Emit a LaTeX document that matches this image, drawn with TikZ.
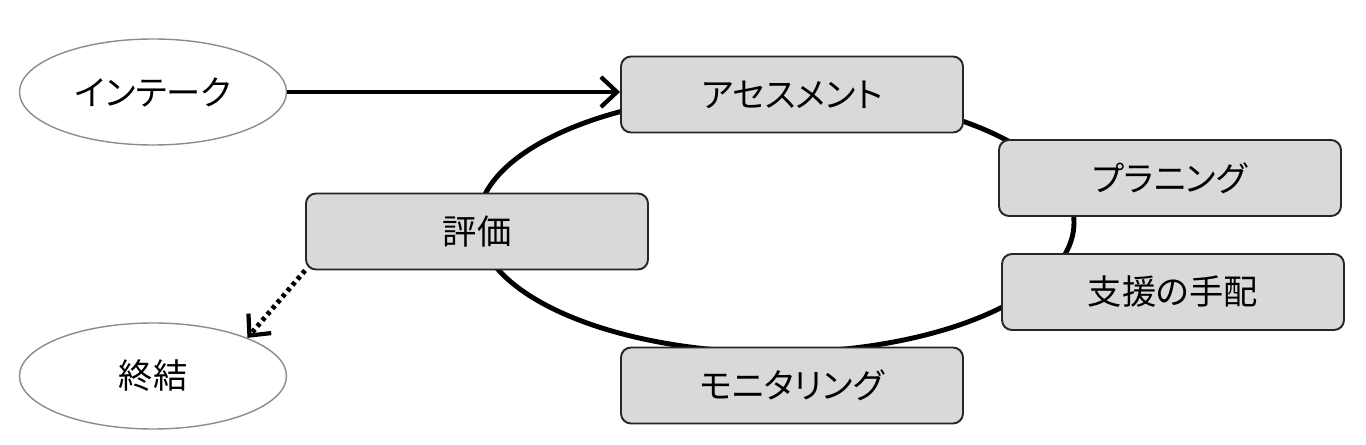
\documentclass[tikz,border=0pt]{standalone}
\usepackage{fontspec}
\newfontfamily\jp{Noto Sans CJK JP}[RawFeature=+palt]
\usetikzlibrary{shapes.geometric,arrows.meta}

\tikzset{
  stage/.style={draw=black!85, line width=1.1pt, fill=black!15, rounded corners=0.2cm,
    minimum width=6.84cm, minimum height=1.52cm, inner sep=0pt, font=\jp\fontsize{19.5}{21}\selectfont},
  endpt/.style={ellipse, draw=black!45, line width=0.8pt, fill=white,
    minimum width=5.34cm, minimum height=2.12cm, inner sep=0pt, font=\jp\fontsize{19.5}{21}\selectfont},
  flow/.style={line width=2.8pt, -{Straight Barb[length=0.32cm, width=0.6cm, line width=2.4pt]}}
}

\begin{document}
\begin{tikzpicture}
    \useasboundingbox (0,0) rectangle (27.32,-8.9);
    % cycle
    \draw[line width=2.8pt] (15.52,-4.45) ellipse (5.96cm and 2.6cm);
    \node[endpt] (ik) at (3.06,-1.84) {インテーク};
    \node[endpt] (sk) at (3.06,-7.52) {終結};
    \node[stage] (as) at (15.84,-1.89) {アセスメント};
    \node[stage] (pl) at (23.4,-3.56) {プラニング};
    \node[stage] (sh) at (23.46,-5.84) {支援の手配};
    \node[stage] (mo) at (15.84,-7.71) {モニタリング};
    \node[stage] (hy) at (9.54,-4.63) {評価};
    \draw[flow] (ik.east) -- (ik.east -| as.west);
    \draw[flow, dash pattern=on 2.2pt off 2.2pt] (hy.south west) -- (sk.22);
\end{tikzpicture}
\end{document}
